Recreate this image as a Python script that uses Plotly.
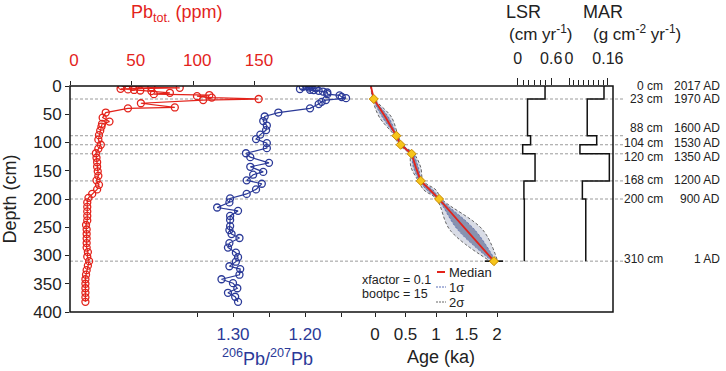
import plotly.graph_objects as go

# ---------------- data ----------------
pb_depth = [0.3, 1.5, 2.2, 3.2, 5.0, 6.0, 7.0, 8.0, 9.0, 12.0, 14.5, 16.0, 18.0, 20.5, 23.0, 25.0,
            30.5, 38.0, 39.5, 47, 56, 63, 67, 72, 79, 87, 95, 104, 111, 119, 127, 135, 143, 151,
            159, 167, 175, 183, 191, 198, 206, 214, 222, 230, 238, 246, 254, 262, 270, 278, 286,
            294, 302, 310, 318, 326, 334, 342, 350, 358, 366, 374, 382]
pb_ppm = [42, 51, 66, 89, 41, 47, 52, 57, 66, 81, 68, 113, 103, 115, 153, 108,
          57.5, 85, 47, 29, 26.5, 32, 26, 25.5, 24.5, 23.5, 23, 25, 23, 21, 21.5, 22, 22, 22.5,
          23, 21.5, 23.5, 22, 18, 15, 14, 14, 14, 14, 14, 13, 13.5, 13.5, 13.5, 13.5, 13.5,
          14.5, 14, 15.5, 14.5, 13.5, 13, 12.5, 12.5, 12.5, 12.5, 12.5, 12.5]

ratio_depth = [0, 0.8, 1.6, 3.0, 4.2, 5.4, 6.6, 7.4, 8.6, 9.8, 11.5, 14.5, 16.5, 19.5, 21.5, 25,
               28, 32, 39.5, 47, 54, 62, 70, 78, 86, 94, 101, 110, 119, 126, 136, 143, 152, 157,
               167, 173, 183, 191, 199, 206, 215, 221, 230, 237, 248, 255, 262, 269, 278, 286,
               295, 303, 311, 319, 324, 334, 342, 349, 358, 366, 373, 382]
ratio_206_207 = [1.198, 1.191, 1.203, 1.194, 1.185, 1.207, 1.193, 1.188, 1.181, 1.175, 1.169,
                 1.169, 1.152, 1.149, 1.143, 1.171, 1.177, 1.181, 1.193, 1.237, 1.256, 1.258,
                 1.253, 1.254, 1.262, 1.268, 1.253, 1.253, 1.282, 1.276, 1.250, 1.276, 1.258,
                 1.272, 1.281, 1.260, 1.268, 1.281, 1.304, 1.305, 1.322, 1.293, 1.304, 1.304,
                 1.304, 1.305, 1.302, 1.291, 1.305, 1.307, 1.296, 1.293, 1.296, 1.305, 1.290,
                 1.291, 1.316, 1.300, 1.294, 1.307, 1.297, 1.293]

# age-depth model (ka BP)
model_depth = [0, 23, 55, 88, 104, 120, 144, 168, 184, 200, 255, 310]
model_median = [-0.067, -0.02, 0.17, 0.35, 0.42, 0.60, 0.67, 0.75, 0.90, 1.05, 1.50, 1.95]
model_1sigma = [0.0, 0.01, 0.05, 0.015, 0.015, 0.02, 0.04, 0.02, 0.05, 0.02, 0.14, 0.03]
model_2sigma = [0.0, 0.02, 0.10, 0.03, 0.03, 0.04, 0.08, 0.04, 0.10, 0.04, 0.27, 0.06]

date_depth = [23, 88, 104, 120, 168, 200, 310]
date_age = [-0.02, 0.35, 0.42, 0.60, 0.75, 1.05, 1.95]
date_err = [0.02, 0.04, 0.04, 0.04, 0.04, 0.06, 0.15]

# step profiles (value applies from the listed top depth downward)
step_top = [0, 23, 88, 104, 120, 168, 200]
step_bottom = 310
lsr = [0.49, 0.175, 0.23, 0.088, 0.31, 0.11, 0.117]     # cm/yr
mar = [0.144, 0.075, 0.114, 0.045, 0.166, 0.055, 0.069]  # g/cm2/yr

tie_depth = [0, 23, 88, 104, 120, 168, 200, 310]
tie_cm = ["0 cm", "23 cm", "88 cm", "104 cm", "120 cm", "168 cm", "200 cm", "310 cm"]
tie_year = ["2017 AD", "1970 AD", "1600 AD", "1530 AD", "1350 AD", "1200 AD", "900 AD", "1 AD"]
tie_shift = [0, 0, 8, 2, -3, 1, 0, 2]
dashed_depth = [23, 88, 104, 120, 168, 200, 310]

pb_ticks = [0, 50, 100, 150]
ratio_ticks = [1.30, 1.20]
ratio_ticktext = ["1.30", "1.20"]
ratio_minor = [1.35, 1.25, 1.15]
age_ticks = [0, 0.5, 1, 1.5, 2]
age_ticktext = ["0", "0.5", "1", "1.5", "2"]
lsr_ticks = [0, 0.6]
lsr_ticktext = ["0", "0.6"]
lsr_minor = [0.1, 0.2, 0.3, 0.4, 0.5]
mar_ticks = [0, 0.16]
mar_ticktext = ["0", "0.16"]
mar_minor = [0.02, 0.04, 0.06, 0.08, 0.10, 0.12, 0.14]
depth_ticks = [0, 50, 100, 150, 200, 250, 300, 350, 400]

# ---------------- style ----------------
RED = "#e3231b"
BLUE = "#2b3a98"
FONT = "Liberation Sans, Arial, Helvetica, sans-serif"
W, H = 726, 371
L, R, T, B = 70, 113, 86, 59
PW, PH = W - L - R, H - T - B


def px(x):
    return (x - L) / PW


def py(y):
    return (H - B - y) / PH


fig = go.Figure()

fig.add_trace(go.Scatter(
    x=pb_ppm, y=pb_depth, xaxis="x", yaxis="y", mode="lines+markers",
    line=dict(color=RED, width=1.2),
    marker=dict(symbol="circle-open", size=7, color=RED, line=dict(width=1.3)),
    name="Pb tot.", showlegend=False))

fig.add_trace(go.Scatter(
    x=ratio_206_207, y=ratio_depth, xaxis="x2", yaxis="y", mode="lines+markers",
    line=dict(color=BLUE, width=1.2),
    marker=dict(symbol="circle-open", size=7, color=BLUE, line=dict(width=1.3)),
    name="206Pb/207Pb", showlegend=False))

lo2 = [m - s for m, s in zip(model_median, model_2sigma)]
hi2 = [m + s for m, s in zip(model_median, model_2sigma)]
lo1 = [m - s for m, s in zip(model_median, model_1sigma)]
hi1 = [m + s for m, s in zip(model_median, model_1sigma)]

fig.add_trace(go.Scatter(x=lo2, y=model_depth, xaxis="x3", yaxis="y", mode="lines",
                         line=dict(color="#555", width=0.9, dash="3px,2px", shape="spline"),
                         name="2σ", showlegend=False))
fig.add_trace(go.Scatter(x=hi2, y=model_depth, xaxis="x3", yaxis="y", mode="lines",
                         line=dict(color="#555", width=0.9, dash="3px,2px", shape="spline"),
                         fill="tonextx", fillcolor="rgba(185,192,210,0.55)",
                         name="2σ", showlegend=False))
fig.add_trace(go.Scatter(x=lo1, y=model_depth, xaxis="x3", yaxis="y", mode="lines",
                         line=dict(color="#5b6fb8", width=0.9, dash="2px,2px", shape="spline"),
                         name="1σ", showlegend=False))
fig.add_trace(go.Scatter(x=hi1, y=model_depth, xaxis="x3", yaxis="y", mode="lines",
                         line=dict(color="#5b6fb8", width=0.9, dash="2px,2px", shape="spline"),
                         fill="tonextx", fillcolor="rgba(70,85,130,0.55)",
                         name="1σ", showlegend=False))
fig.add_trace(go.Scatter(x=model_median, y=model_depth, xaxis="x3", yaxis="y", mode="lines",
                         line=dict(color=RED, width=1.8), name="Median", showlegend=False))
fig.add_trace(go.Scatter(
    x=date_age, y=date_depth, xaxis="x3", yaxis="y", mode="markers",
    marker=dict(symbol="diamond", size=7, color="#f6c51c", line=dict(color="#c98a00", width=1)),
    error_x=dict(type="data", array=date_err, color="#111", thickness=1.6, width=0),
    name="dates", showlegend=False))

fig.add_trace(go.Scatter(x=lsr + [lsr[-1]], y=step_top + [step_bottom], xaxis="x4", yaxis="y",
                         mode="lines", line=dict(color="#111", width=1.5, shape="vh"),
                         name="LSR", showlegend=False))
fig.add_trace(go.Scatter(x=mar + [mar[-1]], y=step_top + [step_bottom], xaxis="x5", yaxis="y",
                         mode="lines", line=dict(color="#111", width=1.5, shape="vh"),
                         name="MAR", showlegend=False))

common = dict(showgrid=False, zeroline=False, showline=False, ticks="outside",
              tickcolor="#222", tickwidth=1, tickmode="array", automargin=False)

# x ranges chosen so that axes line up inside one frame
pb_range = [0, PW / 1.233]
ratio_range = [1.30 + (233 - L) / 720, 1.30 - (L + PW - 233) / 720]
age_range = [-(375 - L) / 61, -(375 - L) / 61 + PW / 61]
lsr_range = [-(517.8 - L) / 55.6, -(517.8 - L) / 55.6 + PW / 55.6]
mar_range = [-(569 - L) / 243, -(569 - L) / 243 + PW / 243]

fig.update_layout(
    width=W, height=H, margin=dict(l=L, r=R, t=T, b=B, autoexpand=False),
    paper_bgcolor="white", plot_bgcolor="white",
    font=dict(family=FONT, color="#222"),
    xaxis=dict(**common, side="top", anchor="y", range=pb_range, tickvals=pb_ticks,
               ticklen=4, tickfont=dict(size=17, color=RED), ticklabelstandoff=8,
               ticklabelshift=4),
    xaxis2=dict(**common, side="bottom", anchor="y", overlaying="x", range=ratio_range,
                tickvals=ratio_ticks, ticktext=ratio_ticktext, ticklen=4,
                minor=dict(tickvals=ratio_minor, ticklen=4, ticks="outside", tickcolor="#222"),
                tickfont=dict(size=17, color=BLUE), ticklabelstandoff=3),
    xaxis3=dict(**common, side="bottom", anchor="y", overlaying="x", range=age_range,
                tickvals=age_ticks, ticktext=age_ticktext, ticklen=4,
                tickfont=dict(size=17, color="#222"), ticklabelstandoff=3),
    xaxis4=dict(**common, side="top", anchor="y", overlaying="x", range=lsr_range,
                tickvals=lsr_ticks, ticktext=lsr_ticktext, ticklen=7,
                minor=dict(tickvals=lsr_minor, ticklen=5, ticks="outside", tickcolor="#222"),
                tickfont=dict(size=16, color="#222"), ticklabelstandoff=8),
    xaxis5=dict(**common, side="top", anchor="y", overlaying="x", range=mar_range,
                tickvals=mar_ticks, ticktext=mar_ticktext, ticklen=7,
                minor=dict(tickvals=mar_minor, ticklen=5, ticks="outside", tickcolor="#222"),
                tickfont=dict(size=16, color="#222"), ticklabelstandoff=8),
    yaxis=dict(**common, range=[400, 0], tickvals=depth_ticks, ticklen=4,
               tickfont=dict(size=17, color="#222"),
               title=dict(text="Depth (cm)", font=dict(size=18, color="#222"), standoff=12)),
)

shapes = []
for d in dashed_depth:
    shapes.append(dict(type="line", xref="paper", yref="y", x0=0, x1=px(624), y0=d, y1=d,
                       line=dict(color="#9a9a9a", width=1, dash="3px,2px"), layer="below"))
shapes.append(dict(type="rect", xref="paper", yref="paper", x0=0, x1=1, y0=0, y1=1,
                   line=dict(color="#111", width=1.5)))
# legend samples
shapes.append(dict(type="line", xref="paper", yref="paper", x0=px(437), x1=px(445),
                   y0=py(272), y1=py(272), line=dict(color=RED, width=2)))
shapes.append(dict(type="line", xref="paper", yref="paper", x0=px(436), x1=px(446),
                   y0=py(287), y1=py(287), line=dict(color="#5b6fb8", width=1, dash="2px,1px")))
shapes.append(dict(type="line", xref="paper", yref="paper", x0=px(436), x1=px(446),
                   y0=py(302), y1=py(302), line=dict(color="#666", width=1, dash="2px,1px")))
fig.update_layout(shapes=shapes)

ann = []


def text(x, y, s, size, color="#222", xanchor="center", **kw):
    ann.append(dict(x=x, y=y, text=s, showarrow=False, xanchor=xanchor, yanchor="middle",
                    font=dict(size=size, color=color, family=FONT), **kw))


text(px(177), py(13), "Pb<sub>tot.</sub> (ppm)", 18, RED, xref="paper", yref="paper")
text(px(523), py(12), "LSR", 18, xref="paper", yref="paper")
text(px(603), py(12), "MAR", 18, xref="paper", yref="paper")
text(px(540), py(33), "(cm yr<sup>-1</sup>)", 17, xref="paper", yref="paper")
text(px(637), py(33), "(g cm<sup>-2</sup> yr<sup>-1</sup>)", 17, xref="paper", yref="paper")
text(px(267), py(357), "<sup>206</sup>Pb/<sup>207</sup>Pb", 18, BLUE, xref="paper", yref="paper")
text(px(441), py(357), "Age (ka)", 18, xref="paper", yref="paper")
text(px(360), py(280), "xfactor = 0.1", 12.5, xanchor="left", xref="paper", yref="paper")
text(px(360), py(294), "bootpc = 15", 12.5, xanchor="left", xref="paper", yref="paper")
text(px(447), py(272), "Median", 13, xanchor="left", xref="paper", yref="paper")
text(px(447), py(287), "1σ", 13, xanchor="left", xref="paper", yref="paper")
text(px(447), py(302), "2σ", 13, xanchor="left", xref="paper", yref="paper")
for d, c, yr, sh in zip(tie_depth, tie_cm, tie_year, tie_shift):
    text(px(665), d, c, 12, xanchor="right", xref="paper", yref="y", yshift=sh)
    text(px(722), d, yr, 12, xanchor="right", xref="paper", yref="y", yshift=sh)
fig.update_layout(annotations=ann)

fig.write_html("out.html", config={"displayModeBar": False},
               post_script="document.body.style.margin='0';")
